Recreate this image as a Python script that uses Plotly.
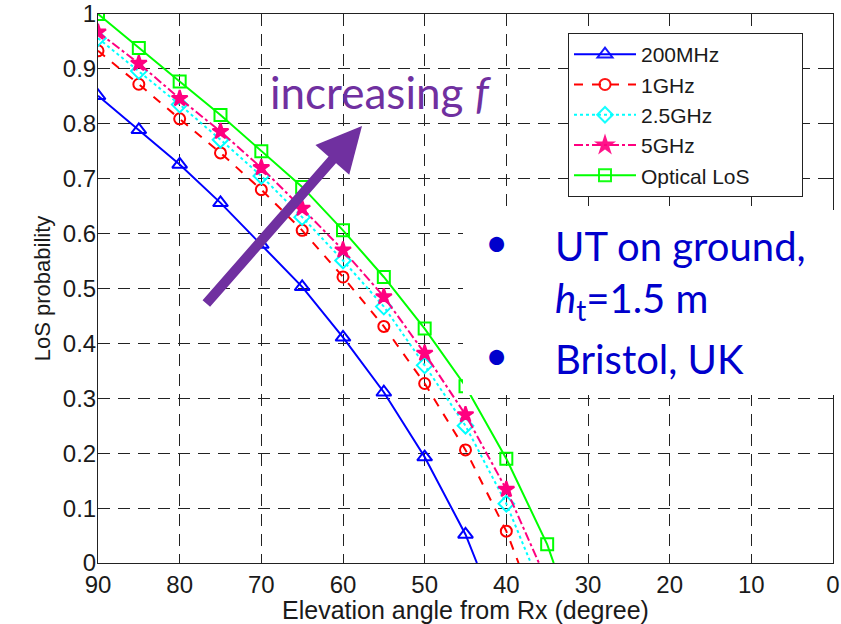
import plotly.graph_objects as go

# Elevation angles (degrees) and LoS probabilities per carrier frequency.
# The last point of every series is where the curve reaches zero (no marker).
angle_200mhz = [90, 85, 80, 75, 70, 65, 60, 55, 50, 45, 43.6]
los_200mhz = [0.851, 0.789, 0.726, 0.656, 0.580, 0.503, 0.411, 0.311, 0.193, 0.052, 0.0]

angle_1ghz = [90, 85, 80, 75, 70, 65, 60, 55, 50, 45, 40, 38.5]
los_1ghz = [0.933, 0.872, 0.809, 0.747, 0.680, 0.606, 0.521, 0.431, 0.327, 0.206, 0.058, 0.0]

angle_2g5 = [90, 85, 80, 75, 70, 65, 60, 55, 50, 45, 40, 37.0]
los_2g5 = [0.956, 0.896, 0.835, 0.771, 0.705, 0.630, 0.551, 0.467, 0.360, 0.250, 0.108, 0.0]

angle_5ghz = [90, 85, 80, 75, 70, 65, 60, 55, 50, 45, 40, 36.0]
los_5ghz = [0.967, 0.910, 0.846, 0.786, 0.720, 0.646, 0.570, 0.485, 0.382, 0.270, 0.134, 0.0]

angle_opt = [90, 85, 80, 75, 70, 65, 60, 55, 50, 45, 40, 35, 34.2]
los_opt = [1.0, 0.938, 0.877, 0.816, 0.750, 0.685, 0.606, 0.521, 0.427, 0.322, 0.190, 0.034, 0.0]

series_names = ["200MHz", "1GHz", "2.5GHz", "5GHz", "Optical LoS"]

series = [
    (angle_200mhz, los_200mhz, "#0000ff", "solid", "triangle-up-open", 13),
    (angle_1ghz, los_1ghz, "#ff0000", "dash", "circle-open", 11),
    (angle_2g5, los_2g5, "#00ffff", "dot", "diamond-open", 12),
    (angle_5ghz, los_5ghz, "#ff0080", "dashdot", "star", 12),
    (angle_opt, los_opt, "#00ff00", "solid", "square-open", 12),
]

x_ticks = [90, 80, 70, 60, 50, 40, 30, 20, 10, 0]
y_ticks = [0, 0.1, 0.2, 0.3, 0.4, 0.5, 0.6, 0.7, 0.8, 0.9, 1]

W, H = 841, 624
ML, MR, MT, MB = 98, 8, 14, 61
PW, PH = W - ML - MR, H - MT - MB


def px(x):
    return (x - ML) / PW


def py(y):
    return (H - MB - y) / PH


# pad legend labels so the boxed legend keeps its wide right margin
pad = "\u00a0" * 8

fig = go.Figure()
for name, (xs, ys, color, dash, symbol, size) in zip(series_names, series):
    opac = [1] * (len(xs) - 1) + [0]
    fig.add_trace(go.Scatter(
        x=xs, y=ys, name=name + pad, mode="lines+markers",
        line=dict(color=color, width=2, dash=dash),
        marker=dict(symbol=symbol, size=size, color=color, opacity=opac,
                    line=dict(color=color, width=2)),
    ))

tick_font = dict(family="Liberation Sans, Arial, sans-serif", size=24, color="#1a1a1a")
common_axis = dict(
    showline=True, linecolor="#222", linewidth=1, mirror="ticks",
    ticks="inside", ticklen=5, tickcolor="#222",
    showgrid=True, gridcolor="#222", gridwidth=1, griddash="12px,8px",
    zeroline=False, tickfont=tick_font, automargin=False,
)

fig.update_xaxes(
    range=[90, 0], tickvals=x_ticks,
    title=dict(text="Elevation angle from Rx (degree)",
               font=dict(family="Liberation Sans, Arial, sans-serif", size=25, color="#1a1a1a"),
               standoff=6),
    **common_axis,
)
fig.update_yaxes(
    range=[0, 1], tickvals=y_ticks, ticklabelstandoff=-4,
    title=dict(text="LoS probability",
               font=dict(family="Liberation Sans, Arial, sans-serif", size=22, color="#1a1a1a"),
               standoff=6),
    **common_axis,
)

# White panel holding the scenario notes
fig.add_shape(type="rect", xref="paper", yref="paper",
              x0=px(463), x1=px(841), y0=py(395), y1=py(210),
              fillcolor="white", line=dict(width=0), layer="above")

note_font = dict(family="Lato, Open Sans, sans-serif", size=40, color="#0000cc")
notes = [
    ("UT on ground,", 246),
    ("<i>h</i><sub>t</sub>=1.5 m", 300),
    ("Bristol, UK", 359),
]
for text, yc in notes:
    fig.add_annotation(xref="paper", yref="paper", x=px(553), y=py(yc),
                       xanchor="left", yanchor="middle", showarrow=False,
                       text=text, font=note_font)
for yc in (242, 355):
    fig.add_annotation(xref="paper", yref="paper", x=px(497), y=py(yc),
                       xanchor="center", yanchor="middle", showarrow=False,
                       text="•", font=note_font)

# Trend arrow and label
tip_x, tip_y, tail_x, tail_y = 362, 126, 205, 305
fig.add_annotation(xref="paper", yref="paper", x=px(tip_x), y=py(tip_y),
                   ax=tail_x - tip_x, ay=tail_y - tip_y,
                   showarrow=True, arrowhead=2, arrowsize=0.9, arrowwidth=10,
                   arrowcolor="#7030a0", text="")
fig.add_annotation(xref="paper", yref="paper", x=px(268), y=py(92),
                   xanchor="left", yanchor="middle", showarrow=False,
                   text="increasing <i>f</i>",
                   font=dict(family="Lato, Open Sans, sans-serif", size=44, color="#7030a0"))

fig.update_layout(
    width=W, height=H,
    margin=dict(l=ML, r=MR, t=MT, b=MB),
    paper_bgcolor="white", plot_bgcolor="white",
    legend=dict(x=px(568), y=py(33), xanchor="left", yanchor="top",
                itemwidth=62,
                bgcolor="white", bordercolor="#222", borderwidth=1,
                font=dict(family="Liberation Sans, Arial, sans-serif", size=21, color="#1a1a1a"),
                tracegroupgap=0),
    showlegend=True,
)

fig.write_html("out.html")
